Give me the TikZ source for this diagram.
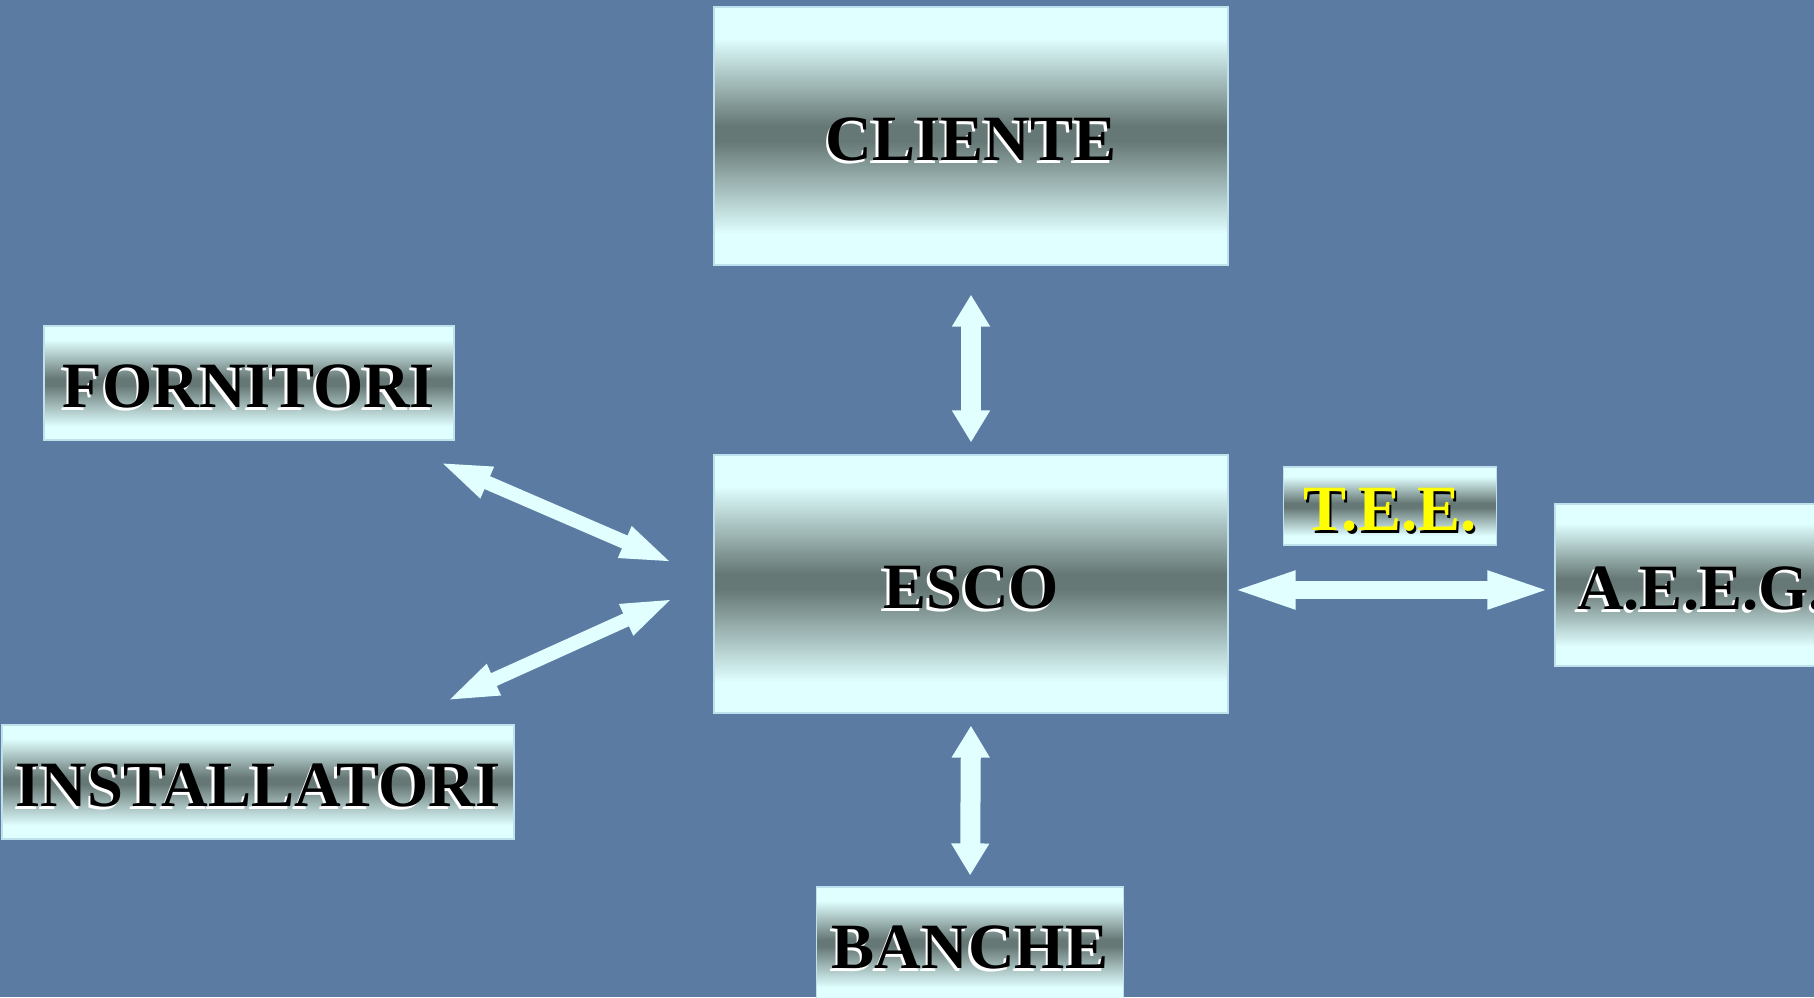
\documentclass[tikz,border=0pt]{standalone}
\usepackage{fontspec}
\setmainfont{Liberation Serif}
\usetikzlibrary{arrows.meta,calc}
\definecolor{bgcol}{RGB}{91,123,163}
\definecolor{boxlight}{RGB}{224,255,255}
\definecolor{boxdark}{RGB}{102,120,117}
\definecolor{boxedge}{RGB}{190,225,235}
\definecolor{arrcol}{RGB}{226,255,255}
\definecolor{teeyellow}{RGB}{255,255,0}
\pgfdeclareverticalshading{boxshade}{100bp}{color(0bp)=(boxlight); color(31bp)=(boxlight); color(49bp)=(boxdark); color(52bp)=(boxdark); color(69bp)=(boxlight); color(100bp)=(boxlight)}
\newcommand{\shw}[1]{\rlap{\color{white}\kern-1.2pt\raisebox{-1.2pt}{#1}}#1}
\newcommand{\shy}[1]{\rlap{\color{black}\kern1.2pt\raisebox{-1.2pt}{#1}}\textcolor{teeyellow}{#1}}
\tikzset{
  box/.style={rectangle, shading=boxshade, draw=boxedge, line width=0.6pt, inner sep=0pt,
    font=\bfseries\fontsize{32.3}{36}\selectfont, text height=24.6pt, text depth=0pt},
  varr/.style={draw=arrcol, line width=10pt, {Triangle[length=16pt,width=18pt]}-{Triangle[length=16pt,width=18pt]}},
  harr/.style={draw=arrcol, line width=9pt, {Triangle[length=33.5pt,width=16.5pt]}-{Triangle[length=33.5pt,width=16.5pt]}},
  darr/.style={draw=arrcol, line width=7pt, {Triangle[length=26.5pt,width=15pt]}-{Triangle[length=26.5pt,width=15pt]}}
}
\begin{document}
\begin{tikzpicture}[x=0.5pt,y=-0.5pt]
\useasboundingbox (0,0) rectangle (1814,997);
\clip (0,0) rectangle (1814,997);
\fill[bgcol] (0,0) rectangle (1814,997);
% boxes
\node[box, minimum width=257pt, minimum height=129pt] (cliente) at (971,136) {\shw{CLIENTE}};
\node[box, minimum width=257pt, minimum height=129pt] (esco) at (971,584) {\shw{ESCO}};
\node[box, minimum width=205pt, minimum height=57pt] (forn) at (249,383) {\shw{FORNITORI}};
\node[box, minimum width=256pt, minimum height=57pt] (inst) at (258,782) {\shw{INSTALLATORI}};
\node[box, minimum width=106.5pt, minimum height=39pt] (tee) at (1390,506) {\shy{T.E.E.}};
\node[box, minimum width=146pt, minimum height=81pt] (aeeg) at (1701,585) {\shw{A.E.E.G.}};
\node[box, minimum width=153.5pt, minimum height=57pt] (banche) at (970,944) {\shw{BANCHE}};
% connector end points
\coordinate (f1) at ([xshift=-8pt,yshift=-10.5pt]forn.south east);
\coordinate (f2) at ([xshift=-20pt,yshift=10.5pt]esco.west);
\coordinate (i1) at ([xshift=-34.5pt,yshift=11.5pt]inst.north east);
\coordinate (i2) at ([xshift=-19.5pt,yshift=-7pt]esco.west);
% arrows
\draw[varr, shorten <=14.5pt, shorten >=6pt] (cliente.south) -- (esco.north);
\draw[varr, shorten <=6pt, shorten >=5.5pt] (esco.south) -- (banche.north);
\draw[harr, shorten <=0pt, shorten >=0pt] ([yshift=-3pt]esco.east) -- ([yshift=-3pt]esco.east -| aeeg.west);
\draw[darr] (f1) -- (f2);
\draw[darr] (i1) -- (i2);
\end{tikzpicture}
\end{document}
